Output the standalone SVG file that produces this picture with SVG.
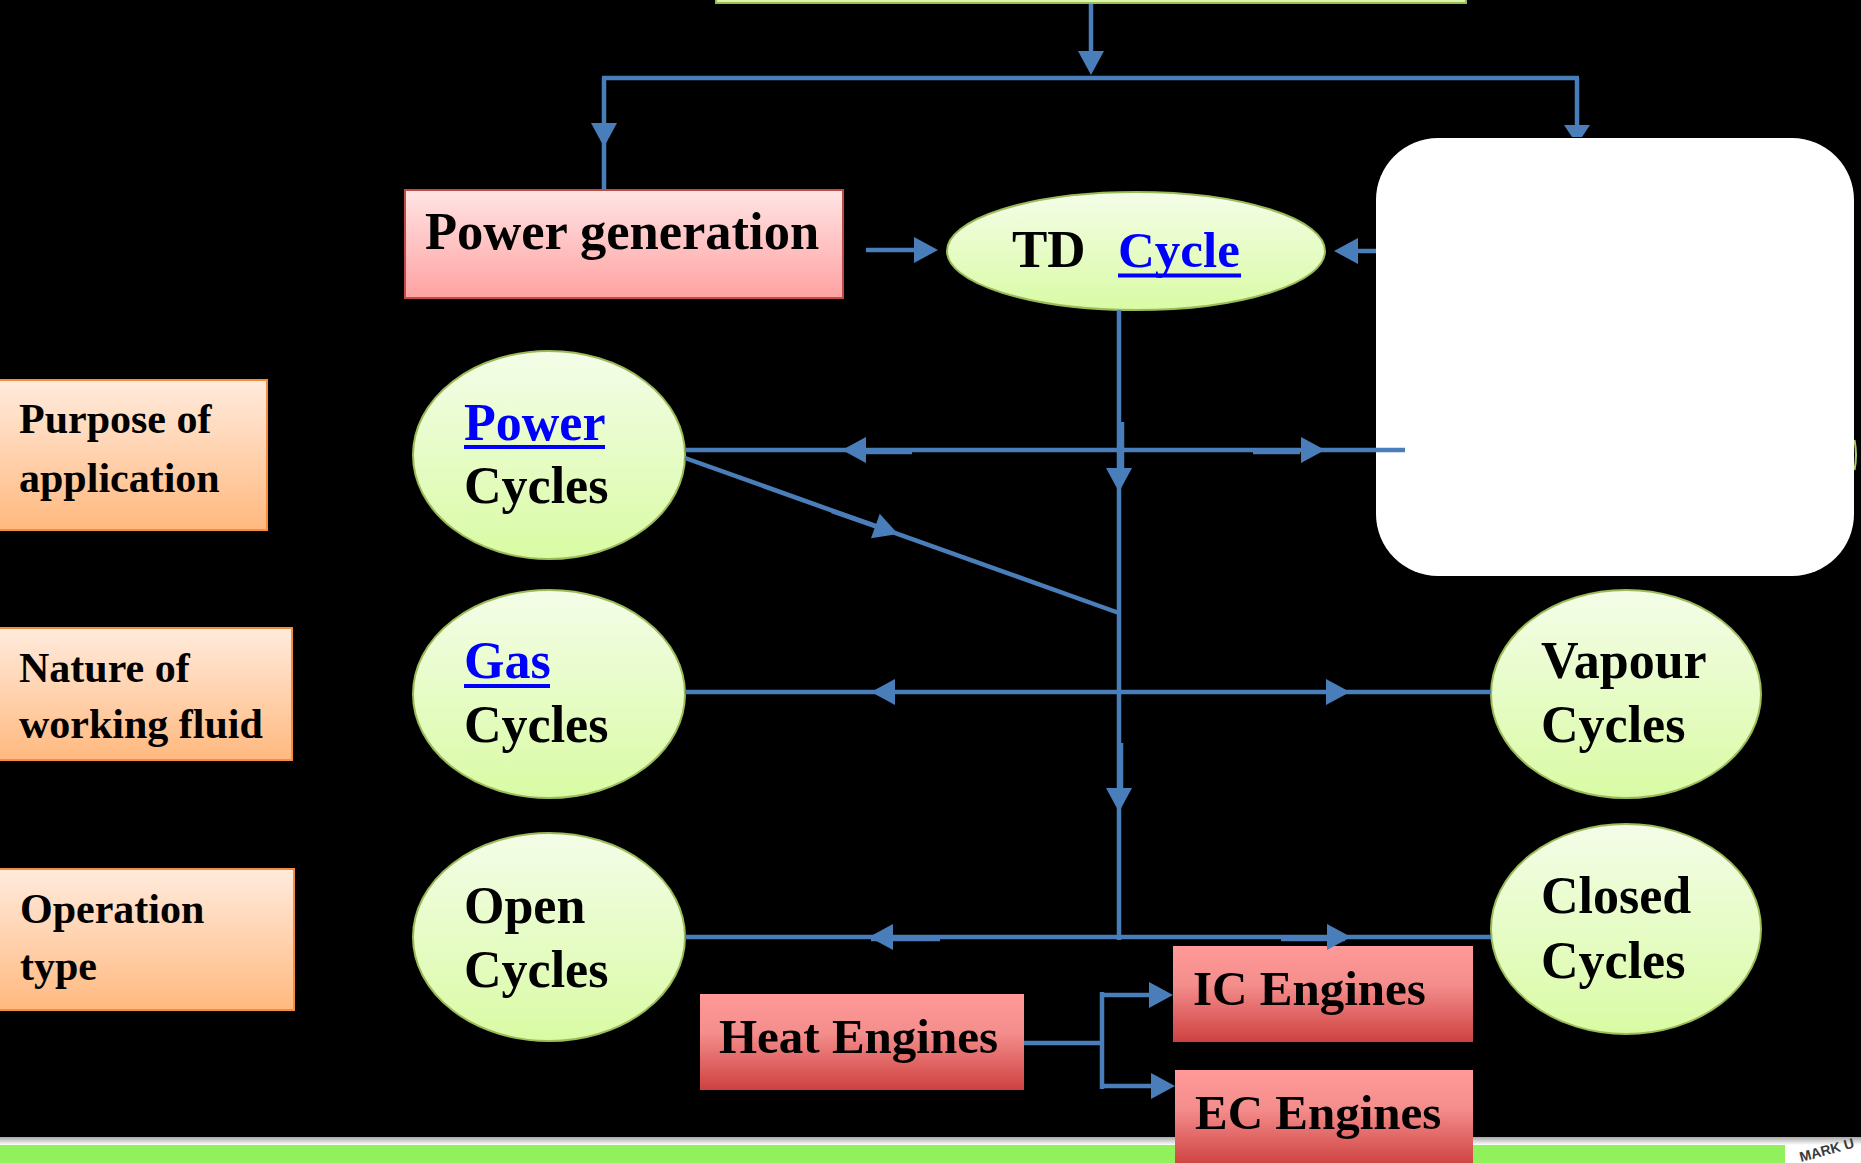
<svg xmlns="http://www.w3.org/2000/svg" xmlns:xlink="http://www.w3.org/1999/xlink" width="1861" height="1163" viewBox="0 0 1861 1163">
  <defs>
    <linearGradient id="gCycle" x1="0" y1="0" x2="0" y2="1">
      <stop offset="0" stop-color="#f4fde8"/>
      <stop offset="1" stop-color="#d9fba4"/>
    </linearGradient>
    <linearGradient id="gPink" x1="0" y1="0" x2="0" y2="1">
      <stop offset="0" stop-color="#ffe4e4"/>
      <stop offset="1" stop-color="#ffa2a2"/>
    </linearGradient>
    <linearGradient id="gRed" x1="0" y1="0" x2="0" y2="1">
      <stop offset="0" stop-color="#ff9a98"/>
      <stop offset="0.4" stop-color="#f48e8c"/>
      <stop offset="1" stop-color="#cd4140"/>
    </linearGradient>
    <linearGradient id="gOrange" x1="0" y1="0" x2="0" y2="1">
      <stop offset="0" stop-color="#ffebdd"/>
      <stop offset="1" stop-color="#ffb97f"/>
    </linearGradient>
    <linearGradient id="gShade" x1="0" y1="0" x2="0" y2="1">
      <stop offset="0" stop-color="#a8a8a8"/>
      <stop offset="1" stop-color="#ffffff"/>
    </linearGradient>
    <!-- arrowhead, tip at the origin, pointing along +x -->
    <path id="head" d="M0,0 L-24,-13 L-24,13 Z"/>
    <style>
      .lbl { font-family: "Liberation Serif", "Times New Roman", serif; font-weight: bold; fill: #000; }
      .big { font-size: 52px; }
      .eng { font-size: 49px; }
      .side { font-size: 42px; }
      .link { fill: #0000ff; }
      .uline { stroke: #0000ff; stroke-width: 4; }
      .cycle { fill: url(#gCycle); stroke: #9bbb59; stroke-width: 2; }
      .side-box { fill: url(#gOrange); stroke: #f68d3e; stroke-width: 2; }
      .engine { fill: url(#gRed); }
      .wire { fill: none; stroke: #4a7ebb; stroke-width: 4.5; }
      .heads use { fill: #4a7ebb; }
    </style>
  </defs>

  <!-- backdrop -->
  <rect x="0" y="0" width="1861" height="1163" fill="#000"/>

  <!-- footer band -->
  <g id="footer">
    <rect x="0" y="1137" width="1861" height="26" fill="#fff"/>
    <rect x="0" y="1137" width="1861" height="8" fill="url(#gShade)"/>
    <rect x="0" y="1145" width="1785" height="18" fill="#91f15c"/>
    <text x="1801" y="1162" transform="rotate(-15 1801 1162)" font-family="Liberation Sans, Arial, sans-serif" font-weight="bold" font-size="14" fill="#3a3a3a">MARK U</text>
  </g>

  <!-- top title box (mostly above the frame) -->
  <g id="title-box">
    <rect x="716" y="-60" width="750" height="63" fill="#d9f6aa" stroke="#9bbb59" stroke-width="2"/>
  </g>

  <g id="power-generation">
    <rect x="405" y="190" width="438" height="108" fill="url(#gPink)" stroke="#be4b48" stroke-width="2"/>
    <text class="lbl" x="425" y="249" font-size="52.5">Power generation</text>
  </g>

  <g id="td-cycle">
    <ellipse class="cycle" cx="1136" cy="251" rx="189" ry="59"/>
    <text class="lbl" x="1012" y="267" font-size="53">TD</text>
    <text class="lbl link" x="1118" y="267" font-size="51">Cycle</text>
    <line class="uline" x1="1118" y1="275.5" x2="1241" y2="275.5"/>
  </g>

  <g id="info-panel">
    <path d="M1854.5 440 Q1857.5 455 1854.5 470" fill="none" stroke="#a9cc6a" stroke-width="2"/>
    <rect x="1376" y="138" width="478" height="438" rx="62" ry="62" fill="#fff"/>
  </g>

  <g id="purpose-of-application">
    <rect class="side-box" x="-2" y="380" width="269" height="150"/>
    <text class="lbl side" x="19" y="433">Purpose of</text>
    <text class="lbl side" x="19" y="492">application</text>
  </g>

  <g id="nature-of-working-fluid">
    <rect class="side-box" x="-2" y="628" width="294" height="132"/>
    <text class="lbl side" x="19" y="682">Nature of</text>
    <text class="lbl side" x="19" y="738">working fluid</text>
  </g>

  <g id="operation-type">
    <rect class="side-box" x="-2" y="869" width="296" height="141"/>
    <text class="lbl side" x="20" y="923">Operation</text>
    <text class="lbl side" x="20" y="980">type</text>
  </g>

  <g id="power-cycles">
    <ellipse class="cycle" cx="549" cy="455" rx="136" ry="104"/>
    <text class="lbl big link" x="464" y="440">Power</text>
    <line class="uline" x1="464" y1="447" x2="605" y2="447"/>
    <text class="lbl big" x="464" y="503">Cycles</text>
  </g>

  <g id="gas-cycles">
    <ellipse class="cycle" cx="549" cy="694" rx="136" ry="104"/>
    <text class="lbl big link" x="464" y="678">Gas</text>
    <line class="uline" x1="464" y1="686" x2="550" y2="686"/>
    <text class="lbl big" x="464" y="742">Cycles</text>
  </g>

  <g id="open-cycles">
    <ellipse class="cycle" cx="549" cy="937" rx="136" ry="104"/>
    <text class="lbl big" x="464" y="923">Open</text>
    <text class="lbl big" x="464" y="987">Cycles</text>
  </g>

  <g id="vapour-cycles">
    <ellipse class="cycle" cx="1626" cy="694" rx="135" ry="104"/>
    <text class="lbl big" x="1541" y="678">Vapour</text>
    <text class="lbl big" x="1541" y="742">Cycles</text>
  </g>

  <g id="closed-cycles">
    <ellipse class="cycle" cx="1626" cy="929" rx="135" ry="105"/>
    <text class="lbl big" x="1541" y="913">Closed</text>
    <text class="lbl big" x="1541" y="978">Cycles</text>
  </g>

  <g id="heat-engines">
    <rect class="engine" x="700" y="994" width="324" height="96"/>
    <text class="lbl eng" x="719" y="1053">Heat Engines</text>
  </g>

  <g id="ic-engines">
    <rect class="engine" x="1173" y="946" width="300" height="96"/>
    <text class="lbl eng" x="1193" y="1005">IC Engines</text>
  </g>

  <g id="ec-engines">
    <rect class="engine" x="1175" y="1070" width="298" height="96"/>
    <text class="lbl eng" x="1195" y="1129">EC Engines</text>
  </g>

  <!-- connectors -->
  <g id="connectors">
    <g class="wires">
      <path class="wire" d="M1091 4 V70"/>
      <path class="wire" d="M602 78 H1579" stroke-width="5"/>
      <path class="wire" d="M604 78 V190"/>
      <path class="wire" d="M1577 78 V137"/>
      <path class="wire" d="M866 250 H930" stroke-width="5"/>
      <path class="wire" d="M1376 251 H1340"/>
      <path class="wire" d="M1119 310 V940"/>
      <path class="wire" d="M1122 422 V470"/>
      <path class="wire" d="M1121 743 V790"/>
      <path class="wire" d="M685 450 H1405"/>
      <path class="wire" d="M866 452 H912"/>
      <path class="wire" d="M1253 452 H1300"/>
      <path class="wire" d="M685 458 L1119 613"/>
      <path class="wire" d="M832 511 L878 527"/>
      <path class="wire" d="M685 692 H1491"/>
      <path class="wire" d="M685 937 H1491"/>
      <path class="wire" d="M871 939 H940"/>
      <path class="wire" d="M1281 939 H1345"/>
      <path class="wire" d="M1024 1043 H1104" stroke-width="5"/>
      <path class="wire" d="M1102 992 V1089" stroke-width="5"/>
      <path class="wire" d="M1100 995 H1160" stroke-width="5"/>
      <path class="wire" d="M1104 1086 H1162" stroke-width="5"/>
    </g>
    <g class="heads">
      <use xlink:href="#head" transform="translate(1091 75) rotate(90)"/>
      <use xlink:href="#head" transform="translate(604 147) rotate(90)"/>
      <use xlink:href="#head" transform="translate(938 250)"/>
      <use xlink:href="#head" transform="translate(1334 251) rotate(180)"/>
      <use xlink:href="#head" transform="translate(1119 492) rotate(90)"/>
      <use xlink:href="#head" transform="translate(1119 812) rotate(90)"/>
      <use xlink:href="#head" transform="translate(842 450) rotate(180)"/>
      <use xlink:href="#head" transform="translate(1325 450)"/>
      <use xlink:href="#head" transform="translate(898 534) rotate(19.65)"/>
      <use xlink:href="#head" transform="translate(871 692) rotate(180)"/>
      <use xlink:href="#head" transform="translate(1350 692)"/>
      <use xlink:href="#head" transform="translate(869 937) rotate(180)"/>
      <use xlink:href="#head" transform="translate(1351 937)"/>
      <use xlink:href="#head" transform="translate(1173 995)"/>
      <use xlink:href="#head" transform="translate(1175 1086)"/>
    </g>
    <!-- head cut off by the panel edge -->
    <polygon points="1564,125 1590,125 1582,137 1572,137" fill="#4a7ebb"/>
  </g>
</svg>
